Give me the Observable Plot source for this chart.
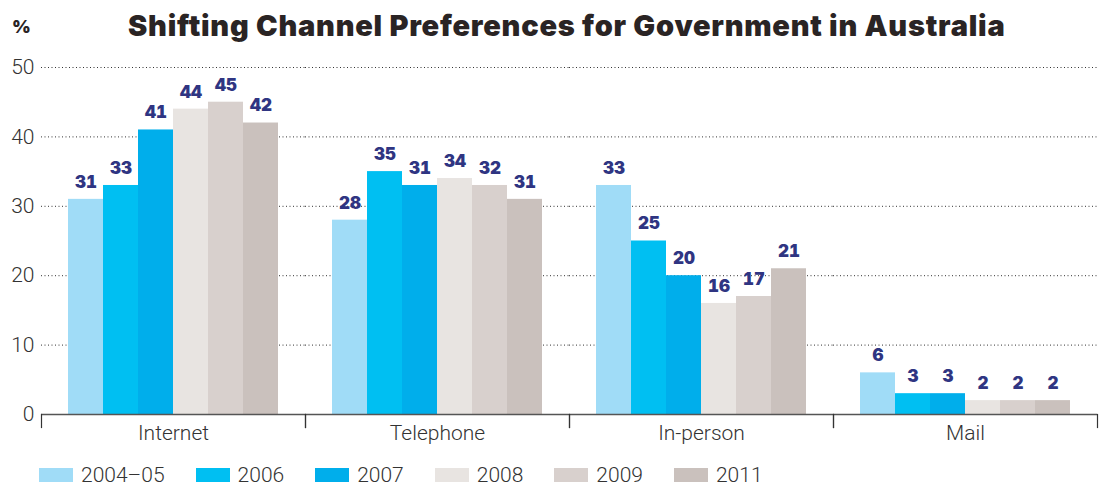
<!DOCTYPE html>
<html><head><meta charset="utf-8">
<script src="https://cdn.jsdelivr.net/npm/d3@7"></script>
<script src="https://cdn.jsdelivr.net/npm/@observablehq/plot@0.6"></script>
<style>
body{margin:0;background:#fff;}
#wrap{position:relative;width:1099px;height:486px;overflow:hidden;font-family:Roboto,sans-serif;}
#title{position:absolute;left:128px;top:8px;font-family:Inter,sans-serif;font-weight:900;font-size:29px;color:#2a2424;white-space:nowrap;letter-spacing:0.75px;}
#pct{position:absolute;left:12px;top:16px;font-family:Inter,sans-serif;font-weight:900;font-size:18px;color:#2a2424;}
#chart{position:absolute;left:0;top:50px;}
#legend{position:absolute;left:39px;top:463px;display:flex;align-items:center;font-family:Roboto,sans-serif;font-weight:300;font-size:21px;color:#333;}
#legend .item{display:flex;align-items:center;margin-right:31px;}
#legend .sw{width:34px;height:14px;margin-right:8px;}
</style>
</head><body>
<div id="wrap">
  <div id="pct">%</div>
  <div id="title">Shifting Channel Preferences for Government in Australia</div>
  <div id="chart"></div>
  <div id="legend"></div>
</div>
<script>
const channels = ["Internet", "Telephone", "In-person", "Mail"];
const years = ["2004–05", "2006", "2007", "2008", "2009", "2011"];
const colors = ["#a0dcf7", "#00bff2", "#00aeeb", "#e8e4e1", "#d8d0cd", "#cac1bd"];
const yTicks = [0, 10, 20, 30, 40, 50];

// bar heights as drawn
const internetBars  = [31, 33, 41, 44, 45, 42];
const telephoneBars = [28, 35, 33, 34, 33, 31];
const inPersonBars  = [33, 25, 20, 16, 17, 21];
const mailBars      = [6, 3, 3, 2, 2, 2];
// labels as printed
const internetLabels  = [31, 33, 41, 44, 45, 42];
const telephoneLabels = [28, 35, 31, 34, 32, 31];
const inPersonLabels  = [33, 25, 20, 16, 17, 21];
const mailLabels      = [6, 3, 3, 2, 2, 2];

const barSets = [internetBars, telephoneBars, inPersonBars, mailBars];
const labelSets = [internetLabels, telephoneLabels, inPersonLabels, mailLabels];
const data = [];
channels.forEach((c, i) => years.forEach((y, j) => data.push({channel: c, year: y, value: barSets[i][j], label: labelSets[i][j]})));

const chart = Plot.plot({
  width: 1099,
  height: 400,
  marginLeft: 40,
  marginRight: 1,
  marginTop: 17,
  marginBottom: 36,
  style: {fontFamily: "Roboto, sans-serif", fontWeight: 300, fontSize: "21px", color: "#333", background: "#fff"},
  fx: {domain: channels, paddingInner: 0, paddingOuter: 0, label: null},
  x: {domain: years, paddingInner: 0, paddingOuter: 0.74, axis: null},
  y: {domain: [0, 50], label: null},
  color: {domain: years, range: colors},
  marks: [
    Plot.gridY(yTicks.filter(d => d > 0), {stroke: "#333", strokeOpacity: 1, strokeWidth: 1, strokeDasharray: "1,2.5"}),
    Plot.axisY(yTicks, {tickSize: 0, tickPadding: 7, label: null, fontSize: 21}),
    Plot.barY(data, {fx: "channel", x: "year", y: "value", fill: "year", inset: 0}),
    Plot.text(data, {fx: "channel", x: "year", y: "value", text: "label", dy: -17, fill: "#2f3582", fontFamily: "Inter, sans-serif", fontWeight: 900, fontSize: 17}),
    Plot.ruleY([0], {stroke: "#555", strokeWidth: 1.5}),
    Plot.frame({anchor: "left", insetTop: 347, insetBottom: -13, stroke: "#333", strokeWidth: 1.2}),
    Plot.frame({anchor: "right", insetTop: 347, insetBottom: -13, stroke: "#333", strokeWidth: 1.2}),
    Plot.axisFx({anchor: "bottom", tickSize: 0, tickPadding: 11, label: null, fontSize: 21})
  ]
});
document.getElementById("chart").appendChild(chart);

const legend = document.getElementById("legend");
years.forEach((y, i) => {
  const item = document.createElement("div");
  item.className = "item";
  const sw = document.createElement("div");
  sw.className = "sw";
  sw.style.background = colors[i];
  const t = document.createElement("span");
  t.textContent = y;
  item.appendChild(sw); item.appendChild(t);
  legend.appendChild(item);
});
</script>
</body></html>
